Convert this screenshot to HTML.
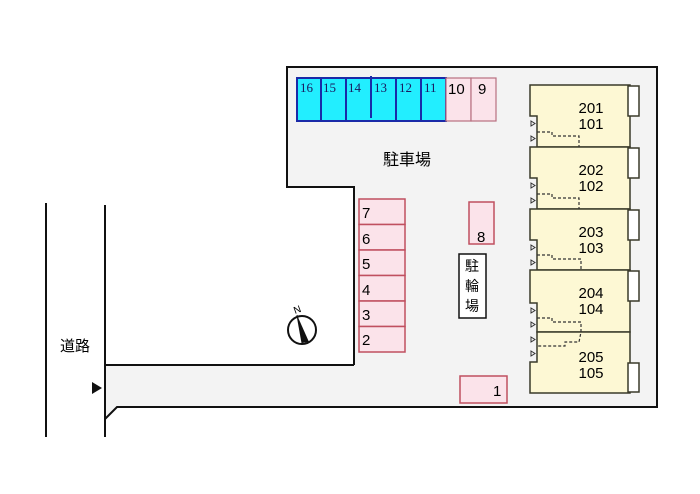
<!DOCTYPE html>
<html><head><meta charset="utf-8"><style>
html,body{margin:0;padding:0;background:#fff;}
svg{display:block;}
text{font-family:"Liberation Sans","Noto Sans CJK JP",sans-serif;}
.s{font-family:"Liberation Serif",serif;}
</style></head><body>
<svg width="700" height="494" viewBox="0 0 700 494" xmlns="http://www.w3.org/2000/svg">
<rect width="700" height="494" fill="#fff"/>
<!-- site -->
<polygon points="287,67 657,67 657,407 117,407 105,419 105,365 354,365 354,187 287,187" fill="#f3f3f3" stroke="none"/>
<polyline points="354,365 354,187 287,187 287,67 657,67 657,407 117,407 105,419" fill="none" stroke="#111" stroke-width="2"/>
<line x1="105" y1="365" x2="354" y2="365" stroke="#111" stroke-width="2"/>
<line x1="105" y1="205" x2="105" y2="437" stroke="#111" stroke-width="2"/>
<line x1="46" y1="203" x2="46" y2="437" stroke="#111" stroke-width="2"/>
<polygon points="92,382 102,388 92,394" fill="#111"/>
<text x="75" y="351" font-size="15" text-anchor="middle">道路</text>
<!-- top parking -->
<rect x="297" y="78" width="149" height="43" fill="#22eeff" stroke="#1a2aa8" stroke-width="2"/>
<g stroke="#1a2aa8" stroke-width="2">
<line x1="321" y1="78" x2="321" y2="121"/><line x1="346" y1="78" x2="346" y2="121"/>
<line x1="371" y1="76" x2="371" y2="118"/><line x1="396" y1="78" x2="396" y2="121"/>
<line x1="421" y1="78" x2="421" y2="121"/>
</g>
<g class="s" font-size="13" fill="#1a1a60">
<text x="300" y="92" class="s">16</text><text x="323" y="92" class="s">15</text><text x="348" y="92" class="s">14</text>
<text x="374" y="92" class="s">13</text><text x="399" y="92" class="s">12</text><text x="424" y="92" class="s">11</text>
</g>
<rect x="446" y="78" width="25" height="43" fill="#fbe3ea" stroke="#b87080" stroke-width="1.2"/>
<rect x="471" y="78" width="25" height="43" fill="#fbe3ea" stroke="#b87080" stroke-width="1.2"/>
<text x="448" y="94" font-size="15">10</text><text x="478" y="94" font-size="15">9</text>
<text x="407" y="165" font-size="16" text-anchor="middle">駐車場</text>
<!-- spaces 2-7 -->
<g fill="#fbe3ea" stroke="#c05060" stroke-width="1.5">
<rect x="359" y="199" width="46" height="25.5"/><rect x="359" y="224.5" width="46" height="25.5"/>
<rect x="359" y="250" width="46" height="25.5"/><rect x="359" y="275.5" width="46" height="25.5"/>
<rect x="359" y="301" width="46" height="25.5"/><rect x="359" y="326.5" width="46" height="25.5"/>
<rect x="469" y="202" width="25" height="42"/><rect x="460" y="376" width="47" height="27"/>
</g>
<g font-size="15">
<text x="362" y="218">7</text><text x="362" y="244">6</text><text x="362" y="269">5</text>
<text x="362" y="295">4</text><text x="362" y="320">3</text><text x="362" y="345">2</text>
<text x="477" y="242">8</text><text x="493" y="396">1</text>
</g>
<rect x="459" y="254" width="27" height="64" fill="#fff" stroke="#111" stroke-width="1.5"/>
<g font-size="14" text-anchor="middle"><text x="472" y="271">駐</text><text x="472" y="291">輪</text><text x="472" y="311">場</text></g>
<!-- compass -->
<circle cx="302" cy="330" r="14" fill="#fff" stroke="#111" stroke-width="2"/>
<polygon points="297,315 309,342 302,343" fill="#111"/>
<line x1="297" y1="315" x2="302" y2="343" stroke="#111" stroke-width="1"/>
<text x="297" y="313" font-size="10" text-anchor="middle" transform="rotate(-20 297 309)">N</text>
<!-- units -->
<g fill="#fdf8d4" stroke="#3a3a2a" stroke-width="1.5">
<polygon points="530,85 630,85 630,147 537,147 537,116 530,116"/>
<polygon points="530,147 630,147 630,209 537,209 537,178 530,178"/>
<polygon points="530,209 630,209 630,270 537,270 537,240 530,240"/>
<polygon points="530,270 630,270 630,332 537,332 537,303 530,303"/>
<polygon points="537,332 630,332 630,393 530,393 530,362 537,362"/>
</g>
<g fill="#fff" stroke="#3a3a2a" stroke-width="1.5">
<rect x="628" y="86" width="11" height="30"/><rect x="628" y="148" width="11" height="30"/>
<rect x="628" y="210" width="11" height="30"/><rect x="628" y="271" width="11" height="30"/>
<rect x="628" y="363" width="11" height="29"/>
</g>
<g fill="none" stroke="#333" stroke-width="1.2" stroke-dasharray="3,2">
<polyline points="537,132 552,132 552,136 579,136 579,147"/>
<polyline points="537,194 552,194 552,198 579,198 579,209"/>
<polyline points="537,255 552,255 552,259 581,259 581,270"/>
<polyline points="537,318 552,318 552,322 581,322 581,332 579,342 565,342 565,346 537,346"/>
</g>
<g fill="none" stroke="#333" stroke-width="1">
<polygon points="531,121 535,123.5 531,126"/><polygon points="531,136 535,138.5 531,141"/>
<polygon points="531,183 535,185.5 531,188"/><polygon points="531,198 535,200.5 531,203"/>
<polygon points="531,245 535,247.5 531,250"/><polygon points="531,260 535,262.5 531,265"/>
<polygon points="531,308 535,310.5 531,313"/><polygon points="531,322 535,324.5 531,327"/>
<polygon points="531,337 535,339.5 531,342"/><polygon points="531,351 535,353.5 531,356"/>
</g>
<g font-size="15" text-anchor="middle">
<text x="591" y="113">201</text><text x="591" y="129">101</text>
<text x="591" y="175">202</text><text x="591" y="191">102</text>
<text x="591" y="237">203</text><text x="591" y="253">103</text>
<text x="591" y="298">204</text><text x="591" y="314">104</text>
<text x="591" y="362">205</text><text x="591" y="378">105</text>
</g>
</svg>
</body></html>
